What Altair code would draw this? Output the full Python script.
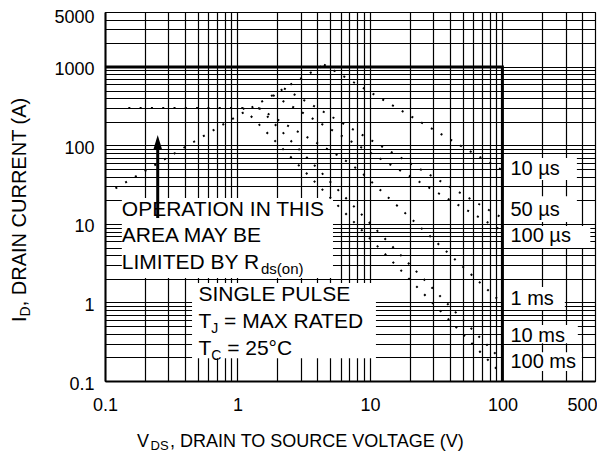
import altair as alt
import pandas as pd

FONT = "Liberation Sans"

# ---------------- axis ticks / grid ----------------
x_ticks = [0.1, 1, 10, 100, 500]
y_ticks = [0.1, 1, 10, 100, 1000, 5000]
x_grid = sorted(set([round(m * 10.0 ** k, 6) for k in range(-1, 3) for m in range(1, 10)] + [500]))
x_grid = [v for v in x_grid if v <= 500]
y_grid = sorted(set([round(m * 10.0 ** k, 6) for k in range(-1, 4) for m in range(1, 10)]))
y_grid = [v for v in y_grid if v <= 5000]

# ---------------- SOA curves (V, A) ----------------
curve_names = ["Rds", "Ilim", "10us", "50us", "100us", "1ms", "10ms", "100ms"]
curve_v = [[0.12, 4.5], [0.15, 1.1], [4.5, 100], [2.245, 100], [1.85, 100],
           [1.43, 6.0, 8.3, 100], [1.46, 100], [1.1, 100]]
curve_i = [[28.4, 1066], [300, 300], [1066, 48], [532, 11.9], [438, 8.1],
           [300, 71, 48, 0.97], [300, 0.18], [300, 0.12]]

# bold boundary
bound_v = [0.1, 100, 100]
bound_i = [1000, 1000, 0.1]

# arrow
arrow_v = [0.25]
arrow_i_start = [11.9]
arrow_i_end = [95]
arrow_head_i = [108.8]

# white label boxes
box_v1 = [0.134, 0.454, 101, 101, 101, 101, 101, 101]
box_v2 = [5.26, 11.1, 365, 365, 461, 296, 371, 398]
box_i1 = [2.05, 0.195, 36.2, 10.6, 4.93, 0.80, 0.303, 0.134]
box_i2 = [21.4, 1.77, 69, 22.6, 9.40, 1.57, 0.515, 0.233]

# annotation texts
note_text = ["OPERATION IN THIS", "AREA MAY BE", "LIMITED BY R", "ds(on)",
             "SINGLE PULSE", "T", "J", "= MAX RATED", "T", "C", "= 25°C",
             "10 µs", "50 µs", "100 µs", "1 ms", "10 ms", "100 ms"]
note_v = [0.134, 0.134, 0.134, 1.504,
          0.508, 0.508, 0.634, 0.792, 0.508, 0.634, 0.836,
          115, 115, 115, 115, 115, 115]
note_i = [12.8, 5.88, 2.70, 2.32,
          1.05, 0.475, 0.411, 0.475, 0.214, 0.1845, 0.214,
          42.0, 12.6, 5.88, 0.926, 0.318, 0.146]
note_size = [21, 21, 21, 15,
             21, 21, 14, 21, 21, 14, 21,
             20, 20, 20, 20, 20, 20]

xscale = alt.Scale(type="log", domain=[0.1, 500], nice=False)
yscale = alt.Scale(type="log", domain=[0.1, 5000], nice=False)

x_expr = "indexof([" + ",".join(str(v) for v in x_ticks) + "], datum.value) >= 0 ? format(datum.value, '~g') : ''"
y_expr = "indexof([" + ",".join(str(v) for v in y_ticks) + "], datum.value) >= 0 ? format(datum.value, '~g') : ''"

xaxis = alt.Axis(values=x_grid, grid=True, gridColor="black", gridWidth=1.2, gridOpacity=1,
                 ticks=False, domain=True, domainColor="black", domainWidth=2,
                 labelExpr=x_expr, labelFont=FONT, labelFontSize=18, labelColor="black",
                 labelPadding=15, labelOverlap=False, labelFlush=False,
                 labelOffset={"condition": {"test": "datum.value == 500", "value": -13}, "value": 0},
                 title=None)
yaxis = alt.Axis(values=y_grid, grid=True, gridColor="black", gridWidth=1.2, gridOpacity=1,
                 ticks=False, domain=True, domainColor="black", domainWidth=2,
                 labelExpr=y_expr, labelFont=FONT, labelFontSize=18, labelColor="black",
                 labelPadding=11, labelOverlap=False,
                 labelOffset={"condition": {"test": "datum.value == 5000", "value": 5}, "value": 3},
                 title=None)


def X(f):
    return alt.X(f, type="quantitative", scale=xscale, axis=xaxis)


def Y(f):
    return alt.Y(f, type="quantitative", scale=yscale, axis=yaxis)


rows = []
for n, vs, cs in zip(curve_names, curve_v, curve_i):
    for k, (v, c) in enumerate(zip(vs, cs)):
        rows.append({"curve": n, "k": k, "V": v, "I": c})
curves_df = pd.DataFrame(rows)

bound_df = pd.DataFrame({"V": bound_v, "I": bound_i, "k": list(range(len(bound_v)))})
box_df = pd.DataFrame({"V1": box_v1, "V2": box_v2, "I1": box_i1, "I2": box_i2})
arrow_df = pd.DataFrame({"V": arrow_v, "I1": arrow_i_start, "I2": arrow_i_end, "Ih": arrow_head_i})
note_df = pd.DataFrame({"t": note_text, "V": note_v, "I": note_i, "s": note_size})

boxes = alt.Chart(box_df).mark_rect(fill="white", stroke=None, opacity=1).encode(
    x=X("V1"), x2="V2", y=Y("I1"), y2="I2")

arrow = alt.Chart(arrow_df).mark_rule(color="black", strokeWidth=3).encode(
    x=X("V"), y=Y("I1"), y2="I2")
head = alt.Chart(arrow_df).mark_point(shape="M0,-1L0.6,1L-0.6,1Z", filled=True, size=225,
                                      color="black", opacity=1).encode(x=X("V"), y=Y("Ih"))

curves = alt.Chart(curves_df).mark_line(color="black", strokeWidth=2, strokeDash=[2, 9.3]).encode(
    x=X("V"), y=Y("I"), detail="curve:N", order="k:Q")

bound = alt.Chart(bound_df).mark_line(color="black", strokeWidth=3).encode(
    x=X("V"), y=Y("I"), order="k:Q")

notes = alt.Chart(note_df).mark_text(align="left", baseline="alphabetic", font=FONT, color="black").encode(
    x=X("V"), y=Y("I"), text="t:N", size=alt.Size("s:Q", scale=None))

# axis titles (with subscripts), placed in pixel space outside the plot
xt_text = ["V", "DS", ", DRAIN TO SOURCE VOLTAGE (V)"]
xt_px = [32, 45.5, 65]
xt_py = [435, 438, 435]
xt_size = [18, 13, 18]
yt_text = ["I", "D", ", DRAIN CURRENT (A)"]
yt_px = [-79.5, -75, -79.5]
yt_py = [310, 304.4, 294.3]
yt_size = [20, 14, 20]

title_layers = []
for t, px, py, s in zip(xt_text, xt_px, xt_py, xt_size):
    title_layers.append(alt.Chart(pd.DataFrame({"a": [0]})).mark_text(
        text=t, align="left", baseline="alphabetic", font=FONT, fontSize=s, color="black").encode(
        x=alt.value(px), y=alt.value(py)))
for t, px, py, s in zip(yt_text, yt_px, yt_py, yt_size):
    title_layers.append(alt.Chart(pd.DataFrame({"a": [0]})).mark_text(
        text=t, align="left", baseline="alphabetic", font=FONT, fontSize=s, color="black", angle=270).encode(
        x=alt.value(px), y=alt.value(py)))

chart = alt.layer(boxes, arrow, head, curves, bound, notes, *title_layers).properties(
    width=490, height=369,
    padding={"left": 97, "top": 4, "right": 2, "bottom": 72},
    autosize=alt.AutoSizeParams(type="none"),
).configure(font=FONT).configure_view(stroke="black", strokeWidth=1)

chart.save("out.html", embed_options={"renderer": "svg", "actions": False})
